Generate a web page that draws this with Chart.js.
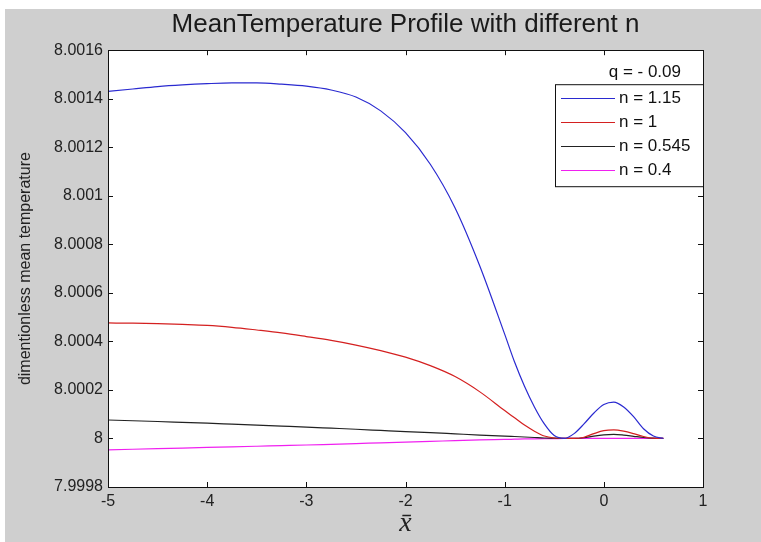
<!DOCTYPE html>
<html>
<head>
<meta charset="utf-8">
<script src="https://cdn.jsdelivr.net/npm/chart.js@4"></script>
<style>
  body { margin: 0; background: #fff; }
  canvas { display: block; }
</style>
</head>
<body>
<canvas id="canvas" width="761" height="542"></canvas>
<script>
const xs = [-5, -4.75, -4.5, -4.25, -4, -3.75, -3.5, -3.25, -3, -2.75, -2.5, -2.25, -2, -1.75, -1.5, -1.25, -1, -0.9, -0.8, -0.7, -0.6, -0.5, -0.4, -0.3, -0.2, -0.1, 0, 0.1, 0.2, 0.3, 0.4, 0.5, 0.6];

const n115 = [8.00143, 8.00144, 8.00145, 8.001457, 8.001462, 8.001465, 8.001465, 8.00146, 8.001452, 8.001436, 8.001407, 8.00135, 8.00126, 8.00113, 8.00095, 8.00071, 8.00043, 8.000315, 8.000215, 8.00013, 8.00006, 8.000012, 8.0, 8.00002, 8.00006, 8.000105, 8.00014, 8.00015, 8.00013, 8.00009, 8.00004, 8.00001, 8.0];
const n1 = [8.000476, 8.000475, 8.000473, 8.00047, 8.000466, 8.000458, 8.000447, 8.000435, 8.00042, 8.000404, 8.000385, 8.000362, 8.000335, 8.0003, 8.000255, 8.000192, 8.000115, 8.000085, 8.000055, 8.00003, 8.00001, 8.000002, 8.0, 8.0, 8.000005, 8.00002, 8.000032, 8.000035, 8.00003, 8.00002, 8.000008, 8.000001, 8.0];
const n0545 = [8.000076, 8.000073, 8.00007, 8.0000665, 8.000063, 8.000059, 8.000055, 8.000051, 8.000047, 8.0000425, 8.000038, 8.000033, 8.000028, 8.000024, 8.000019, 8.000014, 8.00001, 8.000008, 8.000006, 8.000004, 8.000002, 8.000001, 8.0, 8.0, 8.000003, 8.00001, 8.000015, 8.000017, 8.000014, 8.000009, 8.000004, 8.000001, 8.0];
const n04 = [7.999953, 7.9999555, 7.999958, 7.9999605, 7.999963, 7.9999655, 7.999968, 7.9999705, 7.999973, 7.999976, 7.999979, 7.999982, 7.999985, 7.999988, 7.999991, 7.999994, 7.999996, 7.999997, 7.999998, 7.9999985, 7.999999, 7.9999995, 8.0, 8.0, 8.0, 8.0, 8.0, 8.0, 8.0, 8.0, 8.0, 8.0, 8.0];

const seriesNames = ["n = 1.15", "n = 1", "n = 0.545", "n = 0.4"];
const seriesColors = ["#2a2ad0", "#d42020", "#222222", "#f020f0"];
const xTicks = [-5, -4, -3, -2, -1, 0, 1];
const yTicks = [7.9998, 8, 8.0002, 8.0004, 8.0006, 8.0008, 8.001, 8.0012, 8.0014, 8.0016];
const noteText = "q = - 0.09";

const toPoints = (ys) => xs.map((x, i) => ({ x: x, y: ys[i] }));
const allSeries = [n115, n1, n0545, n04];

const data = {
  datasets: allSeries.map((ys, i) => ({
    label: seriesNames[i],
    data: toPoints(ys),
    borderColor: seriesColors[i],
    backgroundColor: seriesColors[i],
    borderWidth: 1.2,
    pointRadius: 0,
    cubicInterpolationMode: "monotone",
    fill: false,
  })),
};

// grey figure background + white axes box
const backdrop = {
  id: "backdrop",
  beforeDraw(chart) {
    const ctx = chart.ctx;
    const a = chart.chartArea;
    ctx.save();
    ctx.fillStyle = "#ffffff";
    ctx.fillRect(0, 0, chart.width, chart.height);
    ctx.fillStyle = "#cfcfcf";
    ctx.fillRect(5, 9, chart.width - 5, chart.height - 9);
    ctx.fillStyle = "#ffffff";
    ctx.fillRect(a.left, a.top, a.right - a.left, a.bottom - a.top);
    ctx.restore();
  },
};

// matlab style: ticks inside on all four sides, box, legend
const matlabAxes = {
  id: "matlabAxes",
  afterDraw(chart) {
    const ctx = chart.ctx;
    const a = chart.chartArea;
    const sx = chart.scales.x;
    const sy = chart.scales.y;
    const len = 5;
    ctx.save();
    ctx.strokeStyle = "#111";
    ctx.lineWidth = 1;
    ctx.beginPath();
    sx.ticks.forEach((t) => {
      const p = Math.round(sx.getPixelForValue(t.value)) + 0.5;
      ctx.moveTo(p, a.bottom);
      ctx.lineTo(p, a.bottom - len);
      ctx.moveTo(p, a.top);
      ctx.lineTo(p, a.top + len);
    });
    sy.ticks.forEach((t) => {
      const p = Math.round(sy.getPixelForValue(t.value)) + 0.5;
      ctx.moveTo(a.left, p);
      ctx.lineTo(a.left + len, p);
      ctx.moveTo(a.right, p);
      ctx.lineTo(a.right - len, p);
    });
    ctx.stroke();
    ctx.strokeRect(Math.round(a.left) + 0.5, Math.round(a.top) + 0.5, Math.round(a.right - a.left), Math.round(a.bottom - a.top));

    // note above legend
    ctx.fillStyle = "#111";
    ctx.font = "17px 'Liberation Sans', Arial, sans-serif";
    ctx.textAlign = "right";
    ctx.textBaseline = "middle";
    ctx.fillText(noteText, a.right - 22, a.top + 22);

    // legend box
    const lx = a.right - 148;
    const ly = a.top + 34;
    const lw = 148;
    const lh = 102;
    ctx.fillStyle = "#ffffff";
    ctx.fillRect(lx, ly, lw, lh);
    ctx.strokeRect(lx + 0.5, ly + 0.5, lw, lh);
    chart.data.datasets.forEach((ds, i) => {
      const y = Math.round(ly + 14 + i * 24) + 0.5;
      ctx.strokeStyle = ds.borderColor;
      ctx.lineWidth = 1.2;
      ctx.beginPath();
      ctx.moveTo(lx + 6, y);
      ctx.lineTo(lx + 60, y);
      ctx.stroke();
      ctx.fillStyle = "#111";
      ctx.textAlign = "left";
      ctx.fillText(ds.label, lx + 64, y);
    });
    ctx.restore();
  },
};

const config = {
  type: "line",
  data: data,
  options: {
    responsive: false,
    animation: false,
    layout: { padding: { left: 0, right: 58, top: 0, bottom: 0 } },
    plugins: {
      legend: { display: false },
      tooltip: { enabled: false },
      title: {
        display: true,
        fullSize: false,
        text: "MeanTemperature Profile with different n",
        color: "#1a1a1a",
        font: { family: "'Liberation Sans', Arial, sans-serif", size: 26, weight: "normal", lineHeight: 1.2 },
        padding: { top: 9, bottom: 10 },
      },
    },
    scales: {
      x: {
        type: "linear",
        min: -5,
        max: 1,
        afterBuildTicks: (scale) => { scale.ticks = xTicks.map((v) => ({ value: v })); },
        afterFit: (scale) => { scale.height = 55; },
        grid: { display: false, drawTicks: false },
        border: { display: false },
        ticks: {
          color: "#222",
          padding: 5,
          maxRotation: 0,
          font: { family: "'Liberation Sans', Arial, sans-serif", size: 16 },
          callback: (v) => String(v),
        },
        title: {
          display: true,
          text: "x\u0304",
          color: "#222",
          font: { family: "'Liberation Serif', 'DejaVu Serif', serif", size: 28, style: "italic" },
          padding: { top: 0, bottom: 2 },
        },
      },
      y: {
        type: "linear",
        min: 7.9998,
        max: 8.0016,
        afterBuildTicks: (scale) => { scale.ticks = yTicks.map((v) => ({ value: v })); },
        afterFit: (scale) => { scale.width = 108; },
        grid: { display: false, drawTicks: false },
        border: { display: false },
        ticks: {
          color: "#222",
          padding: 5,
          font: { family: "'Liberation Sans', Arial, sans-serif", size: 16 },
          callback: (v) => String(+Number(v).toFixed(4)),
        },
        title: {
          display: true,
          text: "dimentionless mean temperature",
          color: "#222",
          font: { family: "'Liberation Sans', Arial, sans-serif", size: 16 },
          padding: { top: 16, bottom: 0 },
        },
      },
    },
  },
  plugins: [backdrop, matlabAxes],
};

const canvas = document.getElementById("canvas");
const chart = new Chart(canvas, config);
</script>
</body>
</html>
